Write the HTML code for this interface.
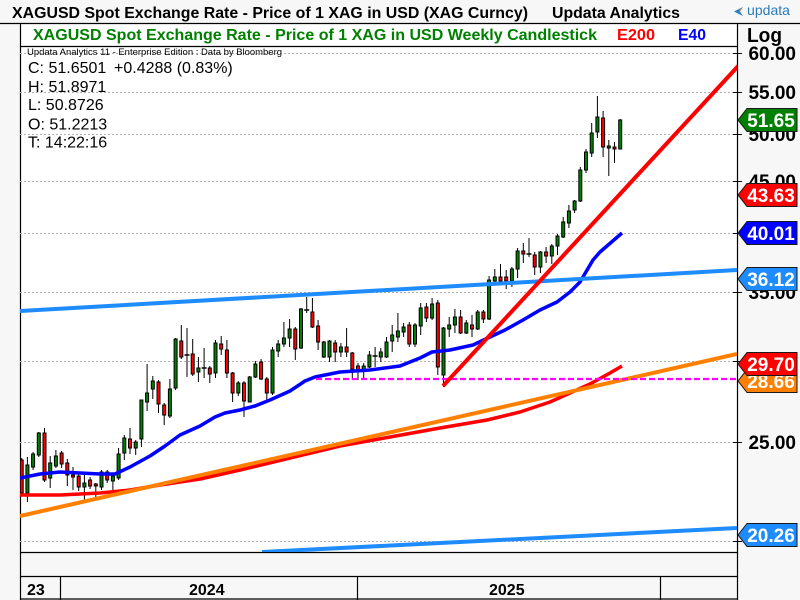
<!DOCTYPE html>
<html><head><meta charset="utf-8"><style>
html,body{margin:0;padding:0;background:#fff;}
svg{display:block;}
text{font-family:"Liberation Sans",Arial,sans-serif;}
</style></head><body>
<svg width="800" height="600" viewBox="0 0 800 600" xmlns="http://www.w3.org/2000/svg">
<defs><clipPath id="pc"><rect x="20" y="46" width="717" height="506"/></clipPath></defs>
<!-- backgrounds -->
<rect x="0" y="0" width="800" height="600" fill="#f7f7f7"/>
<rect x="20" y="23" width="717" height="529" fill="#fff"/>
<!-- frame lines -->
<g stroke="#000" stroke-width="1.2" fill="none">
<line x1="0" y1="23.5" x2="800" y2="23.5"/>
<line x1="20.5" y1="23" x2="20.5" y2="600"/>
<line x1="737.5" y1="23" x2="737.5" y2="600"/>
<line x1="20" y1="46.5" x2="737" y2="46.5"/>
<line x1="20" y1="552.5" x2="737" y2="552.5"/>
<line x1="20" y1="576.5" x2="737" y2="576.5"/>
<line x1="20" y1="599" x2="737" y2="599"/>
<line x1="60.5" y1="576" x2="60.5" y2="600"/>
<line x1="357.5" y1="576" x2="357.5" y2="600"/>
<line x1="660.5" y1="576" x2="660.5" y2="600"/>
</g>
<!-- titles -->
<text x="12" y="18" font-size="16" font-weight="bold" fill="#000" textLength="516" lengthAdjust="spacingAndGlyphs">XAGUSD Spot Exchange Rate - Price of 1 XAG in USD (XAG Curncy)</text>
<text x="552" y="18" font-size="16" font-weight="bold" fill="#000" textLength="128" lengthAdjust="spacingAndGlyphs">Updata Analytics</text>
<path d="M743 7 L734 11.5 L743 16 L740 11.5 Z" fill="#1e7fc8"/>
<path d="M743 7 L738 11.5 L740 11.5 Z" fill="#f08a1c"/>
<text x="747" y="15" font-size="14" fill="#2a7ab8" textLength="43" lengthAdjust="spacingAndGlyphs">updata</text>
<text x="33" y="40" font-size="16" font-weight="bold" fill="#008000" textLength="564" lengthAdjust="spacingAndGlyphs">XAGUSD Spot Exchange Rate - Price of 1 XAG in USD Weekly Candlestick</text>
<text x="617" y="40" font-size="16" font-weight="bold" fill="#ff0000" textLength="38" lengthAdjust="spacingAndGlyphs">E200</text>
<text x="678" y="40" font-size="16" font-weight="bold" fill="#0000ff" textLength="28" lengthAdjust="spacingAndGlyphs">E40</text>
<text x="747" y="42" font-size="20" font-weight="bold" fill="#000" textLength="35" lengthAdjust="spacingAndGlyphs">Log</text>
<!-- gridlines -->
<g stroke="#b0b0b0" stroke-width="1" stroke-dasharray="2,2">
<line x1="20" y1="53.5" x2="737" y2="53.5"/>
<line x1="20" y1="92.5" x2="737" y2="92.5"/>
<line x1="20" y1="134.5" x2="737" y2="134.5"/>
<line x1="20" y1="181.5" x2="737" y2="181.5"/>
<line x1="20" y1="233.5" x2="737" y2="233.5"/>
<line x1="20" y1="292.5" x2="737" y2="292.5"/>
<line x1="20" y1="361.5" x2="737" y2="361.5"/>
<line x1="20" y1="442.5" x2="737" y2="442.5"/>
<line x1="20" y1="541.5" x2="737" y2="541.5"/>
</g>
<!-- ticks -->
<g stroke="#000" stroke-width="1">
<line x1="733" y1="53.5" x2="742" y2="53.5"/>
<line x1="733" y1="92.5" x2="742" y2="92.5"/>
<line x1="733" y1="134.5" x2="742" y2="134.5"/>
<line x1="733" y1="181.5" x2="742" y2="181.5"/>
<line x1="733" y1="233.5" x2="742" y2="233.5"/>
<line x1="733" y1="292.5" x2="742" y2="292.5"/>
<line x1="733" y1="361.5" x2="742" y2="361.5"/>
<line x1="733" y1="442.5" x2="742" y2="442.5"/>
<line x1="733" y1="541.5" x2="742" y2="541.5"/>
</g>
<!-- legend text -->
<text x="27" y="55" font-size="9.5" fill="#000" textLength="255" lengthAdjust="spacingAndGlyphs">Updata Analytics 11 - Enterprise Edition : Data by Bloomberg</text>
<g font-size="16" fill="#000">
<text x="28" y="73">C: 51.6501</text>
<text x="114" y="73">+0.4288 (0.83%)</text>
<text x="28" y="92">H: 51.8971</text>
<text x="28" y="110">L: 50.8726</text>
<text x="28" y="129.5">O: 51.2213</text>
<text x="28" y="147.5">T: 14:22:16</text>
</g>
<g clip-path="url(#pc)">
<!-- wicks -->
<path fill="none" stroke="#000" stroke-width="1" d="M21.7 458V496M27.4 457V502M33.1 452V470M38.8 432V457M44.5 428V482M50.2 456V488M55.9 450V468M61.6 451V468M67.3 459V486M73 467V490M78.7 473V491M84.4 474V501M90.1 477V489M95.8 483V497M101.5 470V490M107.2 470V483M112.9 473V492M118.6 448V480M124.3 435V460M130 428V454M135.7 440V455M141.4 400V447M147.1 364V411M152.8 376V399M158.5 380V413M164.2 403V425M169.9 379V418M175.6 338V390M181.3 325V359M187 328V377M192.7 339V376M198.4 357V382M204.1 348V378M209.8 366V383M215.5 340V378M221.2 336V355M226.9 340V378M232.6 372V402M238.3 381V396M244 381V417M249.7 376V402M255.4 361V378M261.1 359V380M266.8 377V403M272.5 347V395M278.2 340V357M283.9 322V347M289.6 319V347M295.3 327V360M301 308V349M306.7 297V313M312.4 298V328M318.1 320V350M323.8 341V358M329.5 340V362M335.2 340V362M340.9 343V357M346.6 328V357M352.3 352V380M358 363V380M363.7 363V380M369.4 351V368M375.1 347V367M380.8 348V362M386.5 337V358M392.2 325V352M397.9 313V342M403.6 323V337M409.3 322V347M415 323V347M420.7 303V335M426.4 303V322M432.1 298V320M437.8 300V375M443.5 327V387M449.2 317V337M454.9 309V333M460.6 310V334M466.3 320V334M472 315V337M477.7 310V330M483.4 310V323M489.1 276V320M494.8 269V283M500.5 264V285M506.2 270V289M511.9 267V287M517.6 248V278M523.3 243V263M529 238V257M534.7 252V275M540.4 251V273M546.1 247V263M551.8 244V264M557.5 234V255M563.2 217V238M568.9 205V228M574.6 200V213M580.3 167V202M586 149V173M591.7 123V157M597.4 96V138M603.1 111V157M608.8 140V176M614.5 142V163M620.2 119V149"/>
<!-- green bodies -->
<path fill="#008000" stroke="#000" stroke-width="1" d="M25.9 465h3V493h-3ZM31.6 454h3V467h-3ZM37.3 433h3V455h-3ZM48.7 463h3V478h-3ZM54.4 456h3V466h-3ZM82.9 483h3V487h-3ZM100 472h3V487h-3ZM111.4 476h3V481h-3ZM117.1 454h3V478h-3ZM122.8 438h3V453h-3ZM134.2 442h3V448h-3ZM139.9 400h3V439h-3ZM145.6 393h3V402h-3ZM151.3 381h3V389h-3ZM168.4 389h3V416h-3ZM174.1 339h3V388h-3ZM196.9 368h3V372h-3ZM214 343h3V373h-3ZM236.8 383h3V393h-3ZM248.2 377h3V402h-3ZM253.9 364h3V377h-3ZM271 350h3V393h-3ZM276.7 344h3V351h-3ZM282.4 338h3V344h-3ZM288.1 329h3V338h-3ZM299.5 309h3V348h-3ZM322.3 342h3V357h-3ZM328 341h3V357h-3ZM339.4 347h3V352h-3ZM362.2 366h3V370h-3ZM367.9 355h3V367h-3ZM379.3 352h3V357h-3ZM385 342h3V357h-3ZM390.7 335h3V341h-3ZM396.4 331h3V337h-3ZM402.1 327h3V332h-3ZM413.5 325h3V344h-3ZM419.2 308h3V326h-3ZM430.6 304h3V318h-3ZM442 328h3V375h-3ZM447.7 325h3V329h-3ZM453.4 317h3V325h-3ZM464.8 323h3V333h-3ZM476.2 312h3V329h-3ZM487.6 280h3V319h-3ZM493.3 277h3V281h-3ZM510.4 269h3V281h-3ZM516.1 251h3V269h-3ZM538.9 252h3V267h-3ZM550.3 246h3V256h-3ZM556 236h3V246h-3ZM561.7 222h3V237h-3ZM567.4 211h3V223h-3ZM573.1 201h3V210h-3ZM578.8 170h3V201h-3ZM584.5 152h3V170h-3ZM590.2 133h3V153h-3ZM595.9 117h3V132h-3ZM607.3 146h3V148h-3ZM618.7 120h3V149h-3Z"/>
<!-- red bodies -->
<path fill="#ff0000" stroke="#000" stroke-width="1" d="M20.2 460h3V493h-3ZM43 433h3V480h-3ZM60.1 453h3V464h-3ZM65.8 463h3V475h-3ZM71.5 475h3V477h-3ZM77.2 476h3V487h-3ZM88.6 480h3V486h-3ZM94.3 484h3V486h-3ZM105.7 472h3V480h-3ZM128.5 439h3V448h-3ZM157 382h3V404h-3ZM162.7 405h3V415h-3ZM179.8 341h3V357h-3ZM191.2 354h3V374h-3ZM208.3 368h3V374h-3ZM219.7 344h3V349h-3ZM225.4 350h3V373h-3ZM231.1 373h3V393h-3ZM242.5 383h3V401h-3ZM259.6 362h3V379h-3ZM265.3 379h3V393h-3ZM293.8 329h3V349h-3ZM310.9 312h3V327h-3ZM316.6 326h3V342h-3ZM333.7 343h3V352h-3ZM345.1 347h3V352h-3ZM350.8 353h3V369h-3ZM356.5 366h3V370h-3ZM407.8 325h3V344h-3ZM424.9 307h3V318h-3ZM436.3 303h3V367h-3ZM459.1 317h3V333h-3ZM470.5 325h3V329h-3ZM481.9 312h3V319h-3ZM499 277h3V281h-3ZM504.7 277h3V281h-3ZM521.8 251h3V254h-3ZM533.2 255h3V267h-3ZM544.6 252h3V256h-3ZM601.6 118h3V147h-3ZM613 147h3V149h-3Z"/>
<!-- dojis -->
<path fill="none" stroke="#000" stroke-width="1.5" d="M184.5 355h5M201.6 368h5M304.2 310h5M372.6 356h5M526.5 254h5"/>
<!-- E200 -->
<polyline fill="none" stroke="#ff0000" stroke-width="3.5" stroke-linejoin="round" points="20,495 60,495 100,493 130,490 160,485 200,479 240,470 290,458 340,446 390,437 440,428 487,420 520,412 550,402 570,393 590,384 610,373 622,366"/>
<!-- orange trend -->
<line x1="20" y1="516" x2="737" y2="354" stroke="#ff8000" stroke-width="4"/>
<!-- E40 -->
<polyline fill="none" stroke="#0000ff" stroke-width="3.5" stroke-linejoin="round" points="20,478 40,474 60,472 80,473 100,474 115,474 130,467 150,456 165,446 180,435 200,426 215,417 225,413 240,410 255,406 270,400 290,391 305,381 315,377 340,372 370,370 400,366 420,358 432,352 450,350 473,345 490,337 505,330 523,320 540,310 557,302 570,292 580,282 593,260 600,252 622,233"/>
<!-- dodgerblue trends -->
<line x1="20" y1="311" x2="737" y2="270" stroke="#1e8cff" stroke-width="4"/>
<line x1="262" y1="552" x2="737" y2="528" stroke="#1e8cff" stroke-width="4"/>
<!-- magenta dashed -->
<line x1="316" y1="379" x2="737" y2="379" stroke="#ff00ff" stroke-width="2.2" stroke-dasharray="6,3"/>
<!-- red trend -->
<line x1="443" y1="386" x2="740" y2="64" stroke="#ff0000" stroke-width="4"/>
</g>
<!-- axis labels -->
<g font-size="19" font-weight="bold" fill="#000" text-anchor="end">
<text x="796" y="60">60.00</text>
<text x="796" y="99">55.00</text>
<text x="796" y="141">50.00</text>
<text x="796" y="188">45.00</text>
<text x="796" y="240">40.00</text>
<text x="796" y="299">35.00</text>
<text x="796" y="368">30.00</text>
<text x="796" y="449">25.00</text>
</g>
<!-- tags -->
<g stroke="#1a1a1a" stroke-width="1">
<polygon fill="#008000" points="738,120 747,108.5 797,108.5 797,131.5 747,131.5"/>
<polygon fill="#ff0000" points="738,195 747,183.5 797,183.5 797,206.5 747,206.5"/>
<polygon fill="#0000ff" points="738,233 747,221.5 797,221.5 797,244.5 747,244.5"/>
<polygon fill="#1e8cff" points="738,279 747,267.5 797,267.5 797,290.5 747,290.5"/>
<polygon fill="#ff8000" points="738,381 747,369.5 797,369.5 797,392.5 747,392.5"/>
</g>
<g font-size="19" font-weight="bold" fill="#fff" text-anchor="middle">
<text x="771" y="127">51.65</text>
<text x="771" y="202">43.63</text>
<text x="771" y="240">40.01</text>
<text x="771" y="286">36.12</text>
<text x="771" y="388">28.66</text>
</g>
<polygon fill="#ff0000" stroke="#1a1a1a" stroke-width="1" points="738,364 747,352.5 797,352.5 797,375.5 747,375.5"/>
<text x="771" y="371" font-size="19" font-weight="bold" fill="#fff" text-anchor="middle">29.70</text>
<polygon fill="#1e8cff" stroke="#1a1a1a" stroke-width="1" points="738,535 747,523.5 797,523.5 797,546.5 747,546.5"/>
<text x="771" y="542" font-size="19" font-weight="bold" fill="#fff" text-anchor="middle">20.26</text>
<!-- x axis labels -->
<g font-size="16" font-weight="bold" fill="#000">
<text x="27" y="595">23</text>
<text x="189" y="595">2024</text>
<text x="489" y="595">2025</text>
</g>
</svg>
</body></html>
